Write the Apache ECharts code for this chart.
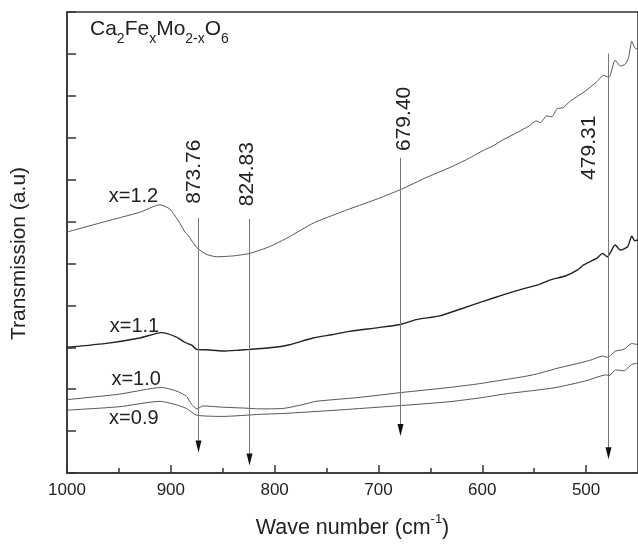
<!DOCTYPE html>
<html>
<head>
<meta charset="utf-8">
<script src="https://cdn.jsdelivr.net/npm/echarts@6/dist/echarts.min.js"></script>
<style>
  html, body { margin: 0; padding: 0; background: #fff; overflow: hidden; }
  #chart { width: 100vw; height: 100vh; }
</style>
</head>
<body>
<div id="chart"></div>
<script>
// wave number (cm-1) / transmission (a.u)
const x12 = [[1000,5.75],[958.7,6.03],[930,6.22],[910.6,6.40],[901,6.30],[891,5.95],[886.5,5.75],[883.6,5.68],[875,5.38],[866,5.22],[856,5.16],[840,5.18],[824,5.24],[805,5.40],[785.6,5.64],[763,5.96],[745,6.14],[728,6.30],[700,6.55],[678,6.77],[654,7.05],[632,7.28],[615,7.48],[598,7.71],[590,7.80],[580,7.95],[566,8.13],[555,8.28],[548,8.40],[544,8.36],[538,8.52],[533,8.50],[528,8.69],[522,8.72],[515,8.88],[502,9.09],[490,9.33],[483,9.49],[478,9.44],[472,9.85],[467,9.71],[462,9.76],[459,9.92],[456,10.30],[453,10.14],[450,10.11]];
const x11 = [[1000,3.00],[960,3.10],[930,3.22],[909,3.35],[895,3.25],[886.5,3.12],[880,3.05],[875,2.95],[865,2.94],[850,2.91],[835,2.93],[824,2.95],[800,3.00],[785.6,3.06],[763,3.22],[745,3.30],[728,3.38],[700,3.47],[678,3.55],[663.7,3.66],[641,3.75],[620,3.92],[598.4,4.10],[580,4.25],[560,4.40],[545,4.50],[534.3,4.61],[520,4.70],[508.6,4.84],[502,4.97],[490,5.12],[484,5.24],[479.6,5.16],[472,5.44],[467,5.32],[460,5.40],[456,5.65],[453,5.54],[450,5.56]];
const x10 = [[1000,1.75],[950,1.88],[909,2.04],[895,1.96],[885,1.83],[880,1.64],[875,1.53],[869,1.60],[850,1.57],[830,1.55],[814,1.53],[792,1.54],[775,1.62],[760,1.71],[720,1.80],[678,1.92],[632,2.04],[606,2.12],[580,2.22],[560,2.30],[548,2.36],[526,2.51],[507,2.62],[495,2.70],[484.3,2.79],[479.5,2.76],[471.5,2.91],[463.5,2.95],[456,3.09],[450,3.06]];
const x09 = [[1000,1.50],[950,1.58],[910.6,1.71],[895,1.63],[885,1.54],[875,1.38],[850,1.35],[814,1.40],[792,1.42],[740,1.50],[678,1.61],[632,1.70],[600,1.80],[577,1.89],[550,1.97],[529,2.04],[500,2.20],[481,2.34],[478,2.32],[471.5,2.46],[463.5,2.44],[456,2.59],[450,2.62]];

const xTicks = [500, 600, 700, 800, 900, 1000];
const xMinorTicks = [550, 650, 750, 850, 950];

// curve labels: [wave number, value]
const curveNames = ['x=1.2', 'x=1.1', 'x=1.0', 'x=0.9'];
const curveLabelAt = [[936, 6.59], [935, 3.50], [933.4, 2.23], [935.6, 1.30]];

// peak arrows: [wave number, line top, arrow tip, label x, label y]
const peakNames = ['873.76', '824.83', '679.40', '479.31'];
const peakArrows = [
  [873.76, 6.09, 0.49, 877.9, 7.19],
  [824.83, 6.06, 0.18, 826.9, 7.13],
  [679.40, 7.52, 0.88, 675.0, 8.45],
  [479.31, 10.01, 0.33, 496.6, 7.76]
];

const font = 'Liberation Sans, Arial, sans-serif';
const chart = echarts.init(document.getElementById('chart'));

function curve(name, data, color, width) {
  return {
    name: name, type: 'line', data: data, showSymbol: false, smooth: 0.2,
    lineStyle: { color: color, width: width }, silent: true, z: 3
  };
}

chart.setOption({
  animation: false,
  backgroundColor: '#fff',
  title: {
    text: '{n|Ca}{s|2}{n|Fe}{s|x}{n|Mo}{s|2-x}{n|O}{s|6}',
    left: 85, top: 20,
    textStyle: {
      rich: {
        n: { fontFamily: font, fontSize: 21, fontWeight: 'normal', color: '#222', lineHeight: 21, padding: [0, 0, 6, 0], verticalAlign: 'bottom' },
        s: { fontFamily: font, fontSize: 14, fontWeight: 'normal', color: '#222', lineHeight: 14, verticalAlign: 'bottom' }
      }
    }
  },
  grid: { left: 67, top: 12, right: -1, bottom: 64.5, show: true, borderColor: '#333', borderWidth: 1.5 },
  xAxis: [{
    type: 'value', min: 450, max: 1000, inverse: true,
    axisLine: { lineStyle: { color: '#333', width: 1.5 } },
    axisTick: { inside: true, length: 8, customValues: xTicks, lineStyle: { color: '#333', width: 1.5 } },
    axisLabel: { customValues: xTicks, formatter: function (v) { return String(v); }, fontFamily: font, fontSize: 17, color: '#222', margin: 9 },
    splitLine: { show: false },
    name: '{n|Wave number (cm}{u|-1}{n|)}',
    nameLocation: 'middle', nameGap: 40,
    nameTextStyle: {
      rich: {
        n: { fontFamily: font, fontSize: 21.5, color: '#222', lineHeight: 21, padding: [4, 0, 0, 0], verticalAlign: 'top' },
        u: { fontFamily: font, fontSize: 13, color: '#222', lineHeight: 13, verticalAlign: 'top' }
      }
    }
  }, {
    type: 'value', min: 450, max: 1000, inverse: true, position: 'bottom',
    axisLine: { show: false },
    axisTick: { inside: true, length: 5, customValues: xMinorTicks, lineStyle: { color: '#333', width: 1.5 } },
    axisLabel: { show: false },
    splitLine: { show: false }
  }],
  yAxis: {
    type: 'value', min: 0, max: 11, interval: 1,
    axisLine: { show: true, lineStyle: { color: '#333', width: 1.5 } },
    axisTick: { show: true, inside: true, length: 9, lineStyle: { color: '#333', width: 1.5 } },
    axisLabel: { show: false },
    splitLine: { show: false },
    name: 'Transmission (a.u)', nameLocation: 'middle', nameGap: 37,
    nameTextStyle: { fontFamily: font, fontSize: 21, color: '#222', padding: [0, 22, 0, 0] }
  },
  series: [
    curve('x=1.2', x12, '#555', 1),
    curve('x=1.1', x11, '#222', 1.4),
    curve('x=1.0', x10, '#555', 1),
    curve('x=0.9', x09, '#555', 1),
    {
      type: 'custom', silent: true, z: 5,
      data: curveLabelAt,
      renderItem: function (params, api) {
        const p = api.coord([api.value(0), api.value(1)]);
        return {
          type: 'text', x: p[0], y: p[1],
          style: { text: curveNames[params.dataIndex], font: '20px ' + font, fill: '#222', align: 'center', verticalAlign: 'middle' }
        };
      }
    },
    {
      type: 'custom', silent: true, z: 4,
      data: peakArrows,
      renderItem: function (params, api) {
        const top = api.coord([api.value(0), api.value(1)]);
        const tip = api.coord([api.value(0), api.value(2)]);
        const lab = api.coord([api.value(3), api.value(4)]);
        const x = Math.round(tip[0]) + 0.5;
        return {
          type: 'group',
          children: [
            { type: 'line', shape: { x1: x, y1: top[1], x2: x, y2: tip[1] - 10 }, style: { stroke: '#777', lineWidth: 1 } },
            { type: 'polygon', shape: { points: [[x - 3, tip[1] - 12], [x + 3, tip[1] - 12], [x, tip[1]]] }, style: { fill: '#111' } },
            {
              type: 'text', x: lab[0], y: lab[1], rotation: Math.PI / 2,
              style: { text: peakNames[params.dataIndex], font: '21px ' + font, fill: '#222', align: 'center', verticalAlign: 'middle' }
            }
          ]
        };
      }
    }
  ]
});
window.addEventListener('resize', function () { chart.resize(); });
</script>
</body>
</html>
